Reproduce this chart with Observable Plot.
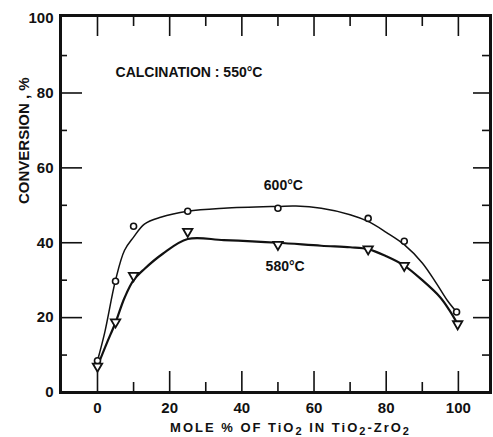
<!DOCTYPE html>
<html>
<head>
<meta charset="utf-8">
<script src="https://cdn.jsdelivr.net/npm/d3@7"></script>
<script src="https://cdn.jsdelivr.net/npm/@observablehq/plot@0.6"></script>
<style>
  html, body { margin: 0; padding: 0; background: #fff; }
</style>
</head>
<body>
<div id="chart"></div>
<script>
const xTicks = [0, 20, 40, 60, 80, 100];
const xMinorTicks = [10, 30, 50, 70, 90];
const yTicks = [0, 20, 40, 60, 80, 100];
const yMajorInner = [20, 40, 60, 80];
const yMinorTicks = [10, 30, 50, 70, 90];

const x600 = [0, 5, 10, 25, 50, 75, 85, 99.5];
const y600 = [8.5, 29.7, 44.4, 48.4, 49.2, 46.5, 40.4, 21.5];
const x580 = [0, 5, 10, 25, 50, 75, 85, 99.8];
const y580 = [7, 18.8, 31.2, 43, 39.5, 38.3, 33.9, 18.3];

const cx600 = [0, 2, 5, 7.5, 10, 13, 17.5, 25, 35, 50, 55, 62, 70, 75, 80, 85, 90, 94, 97, 99.5];
const cy600 = [8.5, 16, 30, 38, 41.5, 45, 46.8, 48.4, 49.2, 49.7, 49.8, 49.2, 47.5, 45.7, 42.8, 39.5, 34.6, 29, 24.5, 21.5];
const cx580 = [0, 2.5, 5, 7.5, 10, 13, 18, 25, 35, 50, 62, 70, 75, 80, 85, 90, 95, 97.5, 99.8];
const cy580 = [7, 13, 18.7, 25.3, 30, 33, 37, 41, 40.7, 40, 39.2, 38.8, 38.3, 36.4, 33.9, 30, 25.4, 22, 18.3];

const seriesLabels = ["600°C", "580°C"];
const labelX = [51.5, 52];
const labelY = [55.3, 33.6];
const noteText = "CALCINATION : 550°C";
const xTitle = "MOLE % OF TiO₂ IN TiO₂-ZrO₂";
const yTitle = "CONVERSION , %";

const pts600 = x600.map((x, i) => ({x, y: y600[i]}));
const pts580 = x580.map((x, i) => ({x, y: y580[i]}));
const curve600 = cx600.map((x, i) => ({x, y: cy600[i]}));
const curve580 = cx580.map((x, i) => ({x, y: cy580[i]}));
const labels = seriesLabels.map((t, i) => ({t, x: labelX[i], y: labelY[i]}));

const W = 493, H = 437;
const mL = 60, mR = 3, mT = 15, mB = 45;
const fw = W - mL - mR, fh = H - mT - mB;

const triDown = {
  draw(ctx, size) {
    const s = Math.sqrt(size / (Math.sqrt(3) / 4));
    const h = s * Math.sqrt(3) / 2;
    ctx.moveTo(-s / 2, -h / 3);
    ctx.lineTo(s / 2, -h / 3);
    ctx.lineTo(0, 2 * h / 3);
    ctx.closePath();
  }
};

const font = "'Liberation Sans', Arial, sans-serif";
const ink = "#111";
const tw = 1.6;

const chart = Plot.plot({
  width: W, height: H,
  marginLeft: mL, marginRight: mR, marginTop: mT, marginBottom: mB,
  x: {domain: [-10.25, 108.9], axis: null},
  y: {domain: [0, 100.7], axis: null},
  style: {fontFamily: font, fontWeight: "bold", color: ink, background: "#fff"},
  marks: [
    // inward tick marks on all four sides
    Plot.ruleX(xTicks, {x: d => d, insetTop: fh - 21, stroke: ink, strokeWidth: tw}),
    Plot.ruleX(xMinorTicks, {x: d => d, insetTop: fh - 10, stroke: ink, strokeWidth: tw}),
    Plot.ruleX(xTicks, {x: d => d, insetBottom: fh - 21, stroke: ink, strokeWidth: tw}),
    Plot.ruleX(xMinorTicks, {x: d => d, insetBottom: fh - 11, stroke: ink, strokeWidth: tw}),
    Plot.ruleY(yMajorInner, {y: d => d, insetRight: fw - 22, stroke: ink, strokeWidth: tw}),
    Plot.ruleY(yMinorTicks, {y: d => d, insetRight: fw - 7, stroke: ink, strokeWidth: tw}),
    Plot.ruleY(yMajorInner, {y: d => d, insetLeft: fw - 17, stroke: ink, strokeWidth: tw}),
    Plot.ruleY(yMinorTicks, {y: d => d, insetLeft: fw - 8, stroke: ink, strokeWidth: tw}),
    Plot.frame({stroke: ink, strokeWidth: 3}),
    Plot.axisX(xTicks, {label: null, tickSize: 0, tickPadding: 10, fontSize: 15, fontWeight: "bold", fill: ink}),
    Plot.axisY(yTicks, {label: null, tickSize: 0, tickPadding: 7, fontSize: 15, fontWeight: "bold", fill: ink}),
    Plot.text([xTitle], {frameAnchor: "bottom", dx: 15, dy: 39, fontSize: 13, fontWeight: "bold", fill: ink}),
    Plot.text([yTitle], {frameAnchor: "left", dx: -36, rotate: -90, fontSize: 15, fontWeight: "bold", fill: ink}),
    Plot.line(curve600, {x: "x", y: "y", curve: "catmull-rom", stroke: ink, strokeWidth: 1.5}),
    Plot.line(curve580, {x: "x", y: "y", curve: "catmull-rom", stroke: ink, strokeWidth: 2.2}),
    Plot.dot(pts600, {x: "x", y: "y", r: 3, stroke: ink, strokeWidth: 1.6, fill: "#fff"}),
    Plot.dot(pts580, {x: "x", y: "y", r: 3.5, symbol: triDown, stroke: ink, strokeWidth: 1.8, fill: "#fff"}),
    Plot.text(labels, {x: "x", y: "y", text: "t", fontSize: 14, fontWeight: "bold", fill: ink}),
    Plot.text([noteText], {x: 5, y: 85.5, textAnchor: "start", fontSize: 14, fontWeight: "bold", fill: ink})
  ]
});

document.getElementById("chart").appendChild(chart);
// render the subscript 2s as lowered, near-full-size digits as in the figure
chart.querySelectorAll("text").forEach(t => {
  if (t.textContent === xTitle) {
    t.setAttribute("letter-spacing", "2");
    const parts = xTitle.split("₂");
    t.textContent = "";
    const ns = "http://www.w3.org/2000/svg";
    parts.forEach((p, i) => {
      const a = document.createElementNS(ns, "tspan");
      a.textContent = p;
      if (i > 0) a.setAttribute("dy", "-3");
      t.appendChild(a);
      if (i < parts.length - 1) {
        const s = document.createElementNS(ns, "tspan");
        s.textContent = "2";
        s.setAttribute("dy", "3");
        s.setAttribute("font-size", "11");
        t.appendChild(s);
      }
    });
  }
});
</script>
</body>
</html>
